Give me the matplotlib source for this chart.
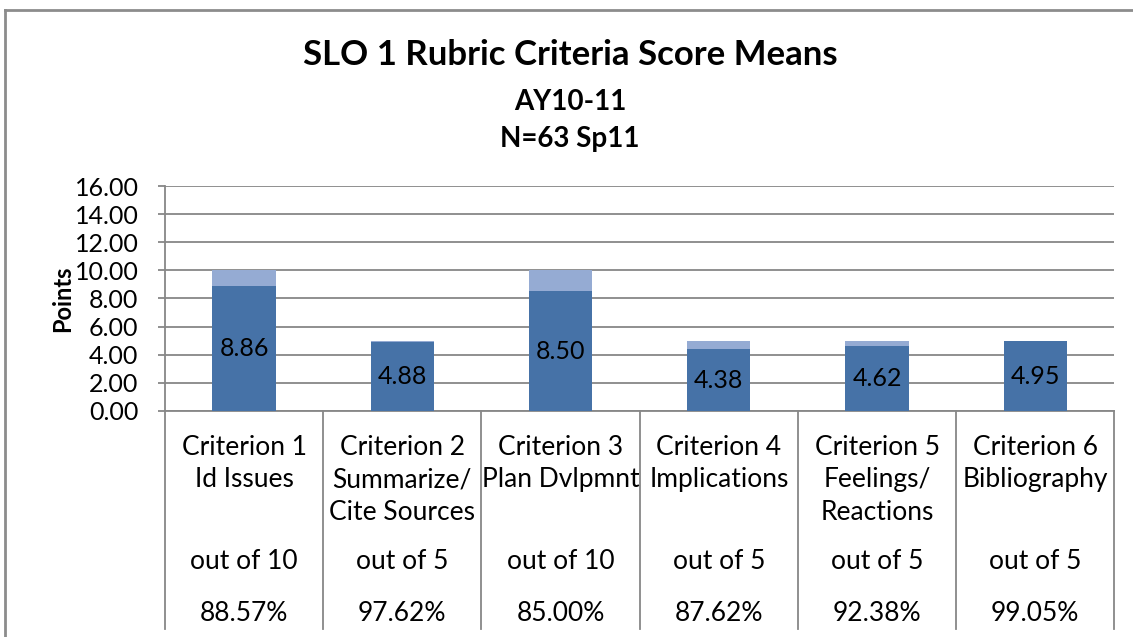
import matplotlib.pyplot as plt
from matplotlib.lines import Line2D

plt.rcParams['font.family'] = ['Lato', 'DejaVu Sans']

# Chart data
criteria = ['Criterion 1\nId Issues', 'Criterion 2\nSummarize/\nCite Sources',
            'Criterion 3\nPlan Dvlpmnt', 'Criterion 4\nImplications',
            'Criterion 5\nFeelings/\nReactions', 'Criterion 6\nBibliography']
out_of = ['out of 10', 'out of 5', 'out of 10', 'out of 5', 'out of 5', 'out of 5']
max_points = [10, 5, 10, 5, 5, 5]
means = [8.86, 4.88, 8.50, 4.38, 4.62, 4.95]
percents = ['88.57%', '97.62%', '85.00%', '87.62%', '92.38%', '99.05%']

remaining = [m - v for m, v in zip(max_points, means)]
x = list(range(len(criteria)))

fig = plt.figure(figsize=(11.33, 6.37), dpi=100)
ax = fig.add_axes([0.1456, 0.3548, 0.838, 0.3532])

dark = '#4672A7'
light = '#95ABD3'
grid_c = '#878787'

ax.bar(x, means, width=0.4, color=dark, zorder=3)
ax.bar(x, remaining, width=0.4, bottom=means, color=light, zorder=3)

for xi, v in zip(x, means):
    ax.text(xi, v / 2, f'{v:.2f}', ha='center', va='center', fontsize=18, zorder=4)

ax.set_xlim(-0.5, len(criteria) - 0.5)
ax.set_ylim(0, 16)
ax.set_yticks(range(0, 17, 2))
ax.set_yticklabels([f'{t:.2f}' for t in range(0, 17, 2)], fontsize=18)
ax.yaxis.grid(True, color=grid_c, linewidth=1.3, zorder=0)
ax.tick_params(axis='y', length=5, color=grid_c, width=1.3, pad=14)
ax.set_xticks([])
for s in ['top', 'right']:
    ax.spines[s].set_visible(False)
ax.spines['left'].set_color(grid_c)
ax.spines['left'].set_linewidth(1.3)
ax.spines['bottom'].set_color(grid_c)
ax.spines['bottom'].set_linewidth(1.3)
ax.set_ylabel('Points', fontsize=17, fontweight='bold', labelpad=0)

# category separators running down through the label table
trans = ax.get_xaxis_transform()
for b in [i - 0.5 for i in range(len(criteria) + 1)]:
    ax.add_line(Line2D([b, b], [0, -0.97], transform=trans, color=grid_c,
                       linewidth=1.3, clip_on=False))

for xi in x:
    ax.text(xi, -0.105, criteria[xi], transform=trans, ha='center', va='top',
            fontsize=19, linespacing=1.38)
    ax.text(xi, -0.67, out_of[xi], transform=trans, ha='center', va='center', fontsize=19)
    ax.text(xi, -0.90, percents[xi], transform=trans, ha='center', va='center', fontsize=19)

fig.text(0.503, 0.913, 'SLO 1 Rubric Criteria Score Means', ha='center', va='center',
         fontsize=25, fontweight='bold')
fig.text(0.503, 0.84, 'AY10-11', ha='center', va='center', fontsize=20, fontweight='bold')
fig.text(0.503, 0.782, 'N=63 Sp11', ha='center', va='center', fontsize=20, fontweight='bold')

# outer chart border (top and left edges visible)
fig.add_artist(Line2D([0.0045, 1.0], [0.984, 0.984], transform=fig.transFigure,
                      color='#8c8c8c', linewidth=2))
fig.add_artist(Line2D([0.0045, 0.0045], [0.0, 0.984], transform=fig.transFigure,
                      color='#8c8c8c', linewidth=2))

fig.savefig('out.png', dpi=100)
